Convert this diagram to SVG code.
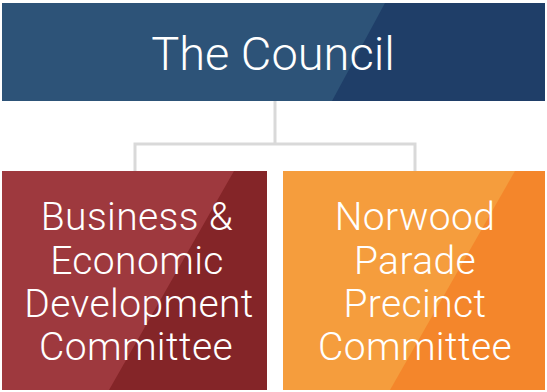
<svg xmlns="http://www.w3.org/2000/svg" width="547" height="392" viewBox="0 0 547 392">
<style>
.lbl{font-family:Roboto,"Liberation Sans",sans-serif;font-weight:300;fill:#ffffff;text-anchor:middle}
.sub{font-size:39px;letter-spacing:0.4px}
.conn{fill:none;stroke:#d9d9d9;stroke-width:3}
</style>
<rect width="547" height="392" fill="#ffffff"/>
<g id="connectors">
<path class="conn" d="M275,101 V144 M135,144 H415 M135,142.5 V172 M415,142.5 V172"/>
</g>
<g id="council">
<rect x="2" y="3" width="543" height="98" fill="#2d5378"/>
<polygon points="385,3 545,3 545,101 332,101" fill="#1f3e68"/>
<text class="lbl" x="273" y="70" font-size="47">The Council</text>
</g>
<g id="business">
<rect x="2" y="171" width="265" height="219" fill="#9e393e"/>
<polygon points="234,171 267,171 267,390 109,390" fill="#842528"/>
<text class="lbl sub"><tspan x="137" y="230">Business &amp;</tspan><tspan x="137" y="274">Economic</tspan><tspan x="139" y="317">Development</tspan><tspan x="136" y="360">Committee</tspan></text>
</g>
<g id="norwood">
<rect x="283" y="171" width="262" height="219" fill="#f59d3d"/>
<polygon points="515,171 545,171 545,390 390,390" fill="#f4862b"/>
<text class="lbl sub"><tspan x="415" y="230">Norwood</tspan><tspan x="415" y="274">Parade</tspan><tspan x="415" y="317">Precinct</tspan><tspan x="415" y="360">Committee</tspan></text>
</g>
</svg>
